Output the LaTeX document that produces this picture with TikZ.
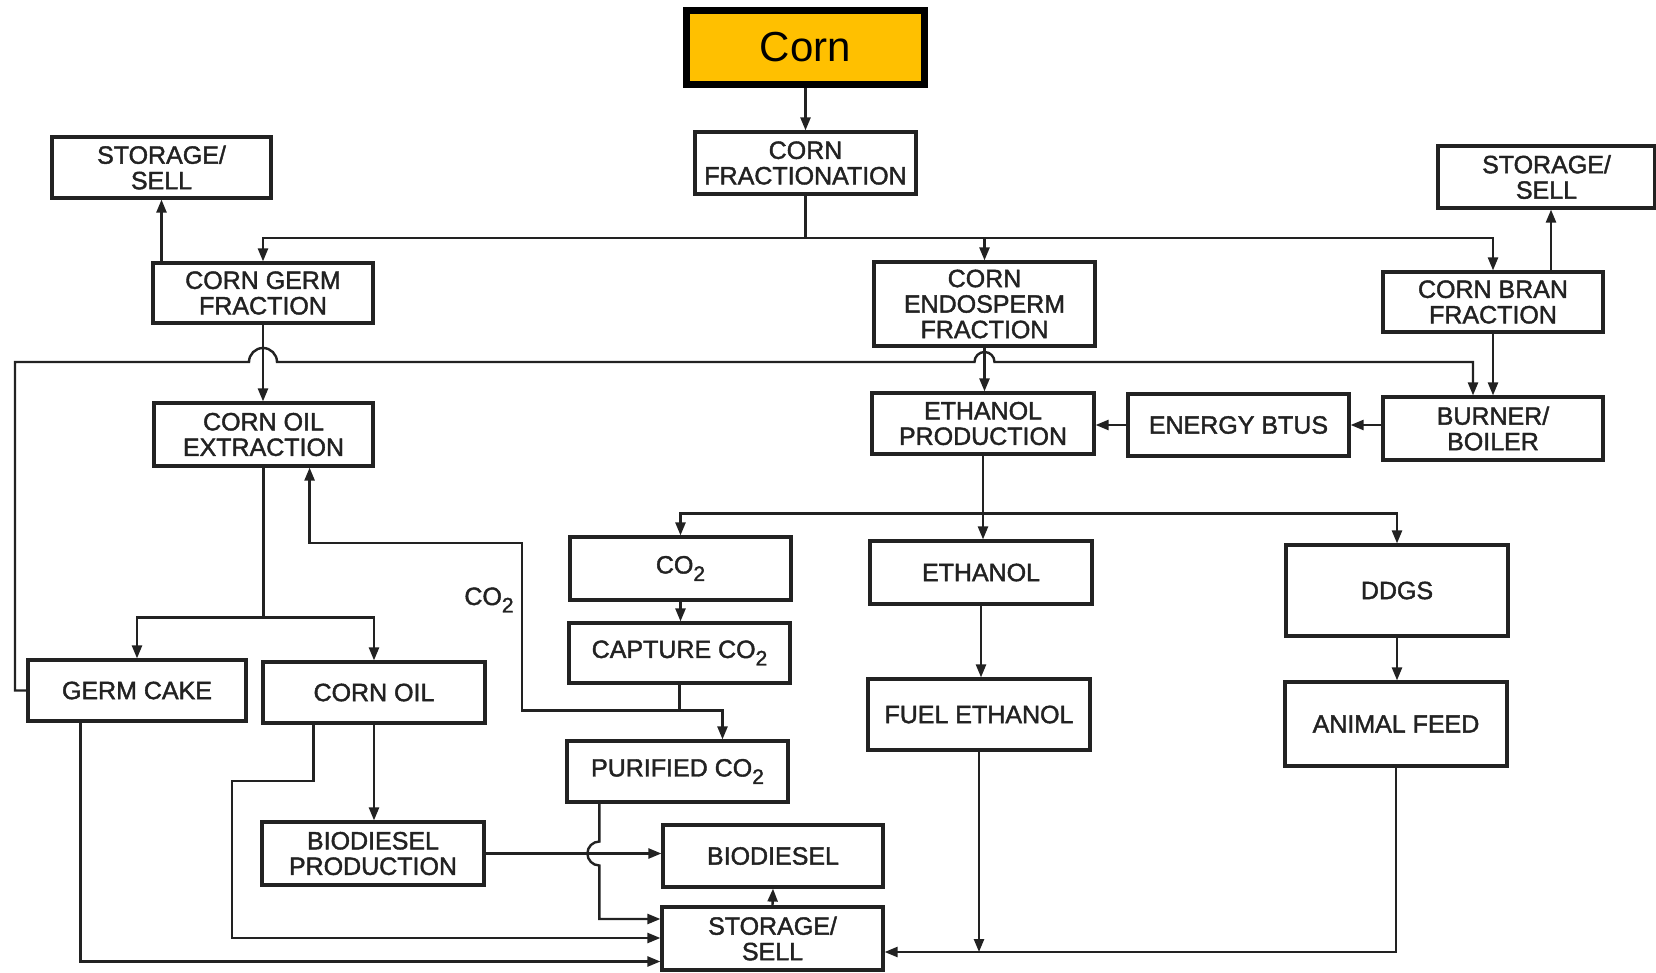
\documentclass[tikz,border=0pt]{standalone}
\usepackage{fontspec}
\setmainfont{Liberation Sans}
\newfontfamily\boxfont[FakeBold=1.6]{Liberation Sans}
\usetikzlibrary{arrows.meta,calc}
\definecolor{cornfill}{HTML}{FFC000}
\definecolor{ink}{HTML}{222222}
% CO2 with a lowered subscript digit
\newcommand{\COtwo}{CO\raisebox{-0.3em}{\fontsize{21}{21}\selectfont 2}}

\begin{document}
\begin{tikzpicture}[x=1pt,y=-1pt,
  box/.style={draw=ink, line width=3.2pt, rectangle, inner sep=0pt, align=center,
              text=ink, font=\boxfont\fontsize{25}{25.5}\selectfont},
  flow/.style={draw=ink, line width=2.4pt, -{Triangle[length=13pt,width=10pt]}},
  link/.style={draw=ink, line width=2.4pt},
]
\useasboundingbox (0,0) rectangle (1656,973);
\fill[white] (0,0) rectangle (1656,973);

% ---------- process boxes ----------
\node[draw=black, line width=7pt, fill=cornfill, minimum width=238pt, minimum height=74pt,
      font=\fontsize{42}{42}\selectfont] (corn) at (805.5,47.5) {Corn};
\node[box, minimum width=221pt, minimum height=62pt] (frac) at (805.5,163) {CORN\\FRACTIONATION};

\node[box, minimum width=219pt, minimum height=61pt] (stL) at (161.5,167.5) {STORAGE/\\SELL};
\node[box, minimum width=220pt, minimum height=60pt] (germ) at (263,293) {CORN GERM\\FRACTION};
\node[box, minimum width=221pt, minimum height=84pt] (endo) at (984.5,304) {CORN\\ENDOSPERM\\FRACTION};
\node[box, minimum width=220pt, minimum height=60pt] (bran) at (1493,302) {CORN BRAN\\FRACTION};
\node[box, minimum width=217pt, minimum height=62pt] (stR) at (1546.5,177) {STORAGE/\\SELL};

\node[box, minimum width=219pt, minimum height=63pt] (oilx) at (263.5,434.5) {CORN OIL\\EXTRACTION};
\node[box, minimum width=222pt, minimum height=61pt] (ethprod) at (983,423.5) {ETHANOL\\PRODUCTION};
\node[box, minimum width=221pt, minimum height=62pt] (energy) at (1238.5,425) {ENERGY BTUS};
\node[box, minimum width=220pt, minimum height=63pt] (burner) at (1493,428.5) {BURNER/\\BOILER};

\node[box, minimum width=221pt, minimum height=63pt] (co2) at (680.5,568.5) {\COtwo};
\node[box, minimum width=221pt, minimum height=60pt] (capture) at (679.5,653) {CAPTURE \COtwo};
\node[box, minimum width=221pt, minimum height=61pt] (purified) at (677.5,771.5) {PURIFIED \COtwo};

\node[box, minimum width=222pt, minimum height=63pt] (ethanol) at (981,572.5) {ETHANOL};
\node[box, minimum width=222pt, minimum height=71pt] (fuel) at (979,714.5) {FUEL ETHANOL};
\node[box, minimum width=222pt, minimum height=91pt] (ddgs) at (1397,590.5) {DDGS};
\node[box, minimum width=222pt, minimum height=84pt] (afeed) at (1396,724) {ANIMAL FEED};

\node[box, minimum width=218pt, minimum height=61pt] (gcake) at (137,690.5) {GERM CAKE};
\node[box, minimum width=222pt, minimum height=61pt] (coil) at (374,692.5) {CORN OIL};
\node[box, minimum width=222pt, minimum height=63pt] (bprod) at (373,853.5) {BIODIESEL\\PRODUCTION};
\node[box, minimum width=220pt, minimum height=62pt] (biod) at (773,856) {BIODIESEL};
\node[box, minimum width=221pt, minimum height=63pt] (stB) at (772.5,938.5) {STORAGE/\\SELL};

\node[text=ink, font=\boxfont\fontsize{25}{25}\selectfont] (co2lbl) at (489,600) {\COtwo};

% ---------- routing points ----------
\coordinate (busTop) at (805.5,238);
\coordinate (loopTop) at (15,362);
\coordinate (ethBus) at ($(ethprod.south)+(0,58)$);
\coordinate (oilSplit) at ($(oilx.south)+(0,150)$);
\coordinate (capJoin) at ($(capture.south)+(0,26)$);
\coordinate (co2Turn) at (522,543);
\coordinate (branUp) at ($(bran.north)+(58,0)$);
\coordinate (burnIn) at ($(burner.north)+(-20,0)$);
\coordinate (pX) at ($(purified.south west)+(34,0)$);
\coordinate (hopC) at (pX |- bprod.east);
\coordinate (coX) at ($(coil.south west)+(52,0)$);
\coordinate (coBend) at (232,781);
\coordinate (gcX) at ($(gcake.south west)+(54,0)$);
\coordinate (inPur) at ($(stB.west)+(0,-19.5)$);
\coordinate (inOil) at ($(stB.west)+(0,-0.5)$);
\coordinate (inCake) at ($(stB.west)+(0,23)$);
\coordinate (inRight) at ($(stB.east)+(0,13.5)$);

% ---------- connectors ----------
\draw[flow] (corn.south) -- (frac.north);
\draw[link] (frac.south) -- (busTop);
\draw[flow] (busTop) -| (germ.north);
\draw[flow] (busTop) -| (bran.north);
\draw[flow] (endo.north |- busTop) -- (endo.north);
\draw[flow] (germ.north -| stL.south) -- (stL.south);
\draw[flow] (branUp) -- (branUp |- stR.south);

% germ cake recycle loop to the burner, hopping over two vertical lines
\draw[flow] (gcake.west) -| (loopTop)
  -- ($(germ.south |- loopTop)+(-14,0)$) arc[start angle=180,end angle=0,radius=14pt]
  -- ($(endo.south |- loopTop)+(-10,0)$) arc[start angle=180,end angle=0,radius=10pt]
  -- (burnIn |- loopTop) -- (burnIn);

\draw[flow] (germ.south) -- (germ.south |- oilx.north);
\draw[flow] (endo.south) -- (endo.south |- ethprod.north);
\draw[flow] (bran.south) -- (bran.south |- burner.north);
\draw[flow] (burner.west |- energy.east) -- (energy.east);
\draw[flow] (energy.west) -- (energy.west -| ethprod.east);

% ethanol production outputs
\draw[link] (ethprod.south) -- (ethBus);
\draw[flow] (ethBus) -| (co2.north);
\draw[flow] (ethBus) -| (ddgs.north);
\draw[flow] (ethBus) -- (ethBus |- ethanol.north);
\draw[flow] (co2.south) -- (co2.south |- capture.north);
\draw[flow] (ethanol.south) -- (ethanol.south |- fuel.north);
\draw[flow] (ddgs.south) -- (ddgs.south |- afeed.north);

% CO2 capture and return to oil extraction
\draw[link] (capture.south) -- (capJoin);
\draw[flow] (capJoin) -| ($(purified.north)+(45,0)$);
\draw[flow] (capJoin) -| (co2Turn) -| ($(oilx.south east)+(-65,0)$);

% corn oil extraction outputs
\draw[link] (oilx.south) -- (oilSplit);
\draw[flow] (oilSplit) -| (gcake.north);
\draw[flow] (oilSplit) -| (coil.north);
\draw[flow] (coil.south) -- (coil.south |- bprod.north);
\draw[flow] (bprod.east) -- (bprod.east -| biod.west);

% products to storage
\draw[flow] (pX) -- ($(hopC)+(0,-12)$) arc[start angle=90,end angle=270,radius=12pt]
  |- (inPur);
\draw[flow] (coX) |- (coBend) |- (inOil);
\draw[flow] (gcX) |- (inCake);
\draw[flow] (stB.north) -- (biod.south);
\draw[flow] (afeed.south) |- (inRight);
\draw[flow] (fuel.south) -- (fuel.south |- inRight);
\end{tikzpicture}
\end{document}
